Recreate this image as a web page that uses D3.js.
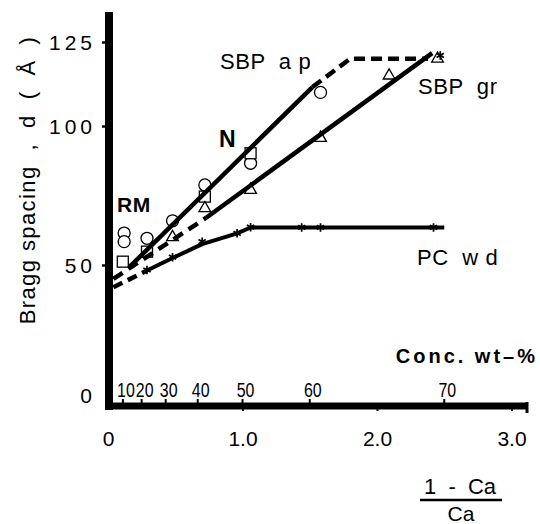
<!DOCTYPE html>
<html>
<head>
<meta charset="utf-8">
<script src="https://cdn.jsdelivr.net/npm/d3@7"></script>
<style>
  html, body { margin: 0; padding: 0; background: #fff; }
  svg { display: block; }
  text { font-family: "Liberation Sans", Arial, Helvetica, sans-serif; fill: #000; white-space: pre; }
</style>
</head>
<body>
<svg id="chart" width="540" height="524"></svg>
<script>
// ---- data ---------------------------------------------------------------
// x: (1 - Ca) / Ca, y: Bragg spacing d (Å)

// SBP a p (open circles)
const apX = [0.12, 0.12, 0.29, 0.48, 0.72, 1.06, 1.58];
const apY = [61.5, 58.4, 59.6, 65.9, 78.8, 86.6, 110];
// N (open squares)
const nX = [0.11, 0.29, 0.72, 1.06];
const nY = [51.2, 54.8, 74.6, 90.2];
// SBP gr (open triangles)
const grX = [0.48, 0.72, 1.06, 1.58, 2.09, 2.45];
const grY = [60, 70.4, 77, 95.7, 115, 120];
// PC w d (stars)
const pcX = [0.29, 0.48, 0.70, 0.96, 1.06, 1.44, 1.58, 2.42, 2.47];
const pcY = [48.2, 52.8, 58.4, 61.4, 63.6, 63.5, 63.5, 63.5, 121];

// fitted lines
const apSolidX = [0.16, 1.52];
const apSolidY = [49.3, 111.6];
const apDashX = [1.52, 1.80, 2.38];
const apDashY = [111.6, 120, 120];
const grSolidX = [0.73, 2.41];
const grSolidY = [67, 121.7];
const grDashX = [0.04, 0.73];
const grDashY = [45, 67];
const pcSolidX = [0.29, 0.48, 0.70, 0.96, 1.06, 2.50];
const pcSolidY = [48, 52.5, 57.5, 61.4, 63.5, 63.5];
const pcDashX = [0.04, 0.29];
const pcDashY = [42, 48];

// axes
const xTicks = [0, 1, 2, 3];
const yTicks = [0, 50, 100, 125];
const concPos = [0.111, 0.25, 0.429, 0.667, 1.0, 1.5, 2.5];
const concLabels = ["10", "20", "30", "40", "50", "60", "70"];

// ---- scales -------------------------------------------------------------
const x = d3.scaleLinear().domain([0, 3]).range([108, 511.5]);
// the printed axis stretches the 100–125 span
const y = d3.scaleLinear().domain([0, 50, 100, 125]).range([404, 265, 126, 42]);

const svg = d3.select("#chart");
const pts = (xs, ys) => xs.map((v, i) => [v, ys[i]]);
const line = d3.line().x(d => x(d[0])).y(d => y(d[1]));

// ---- axes ---------------------------------------------------------------
const axisX = 109, axisY = 406, yTop = 12, xEnd = 528;

const gy = svg.append("g").attr("transform", `translate(${axisX},0)`)
  .call(d3.axisLeft(y).tickValues(yTicks).tickSize(7).tickPadding(6).tickFormat(d3.format("d")));
gy.select(".domain").remove();
gy.selectAll(".tick line").attr("stroke", "#000").attr("stroke-width", 2.5)
  .attr("opacity", d => d === 0 ? 0 : 1);
gy.selectAll(".tick text").attr("font-size", 21).attr("letter-spacing", 4)
  .attr("font-family", "Liberation Sans, Arial, sans-serif").attr("fill", "#000")
  .attr("dy", d => d === 0 ? "-0.05em" : "0.35em");

const gx = svg.append("g").attr("transform", `translate(0,${axisY})`)
  .call(d3.axisBottom(x).tickValues(xTicks).tickSize(5).tickPadding(20)
    .tickFormat(d => d === 0 ? "0" : d3.format(".1f")(d)));
gx.select(".domain").remove();
gx.selectAll(".tick line").attr("stroke", "#000").attr("stroke-width", 2)
  .attr("opacity", d => d === 0 ? 0 : 1);
gx.selectAll(".tick text").attr("font-size", 21)
  .attr("font-family", "Liberation Sans, Arial, sans-serif").attr("fill", "#000");

// thick axis lines
svg.append("line").attr("x1", axisX).attr("x2", axisX).attr("y1", yTop).attr("y2", axisY + 4)
  .attr("stroke", "#000").attr("stroke-width", 8);
svg.append("line").attr("x1", axisX - 4).attr("x2", xEnd).attr("y1", axisY).attr("y2", axisY)
  .attr("stroke", "#000").attr("stroke-width", 7);
svg.append("line").attr("x1", xEnd - 1).attr("x2", xEnd - 1).attr("y1", axisY - 4).attr("y2", axisY + 7)
  .attr("stroke", "#000").attr("stroke-width", 3);

// concentration scale on top of the x axis
const gc = svg.append("g");
gc.selectAll("line").data(concPos).join("line")
  .attr("x1", d => x(d)).attr("x2", d => x(d))
  .attr("y1", axisY - 3).attr("y2", axisY - 7)
  .attr("stroke", "#000").attr("stroke-width", 2);
gc.selectAll("text").data(concLabels).join("text")
  .attr("transform", (d, i) => `translate(${x(concPos[i]) + 3},${axisY - 9}) scale(0.76,1)`)
  .attr("text-anchor", "middle").attr("font-size", 21)
  .text(d => d);

svg.append("text").attr("x", 538).attr("y", 363).attr("text-anchor", "end")
  .attr("font-size", 20).attr("font-weight", "bold").attr("letter-spacing", 3)
  .text("Conc. wt–%");

// x axis title as a fraction
svg.append("text").attr("x", 460).attr("y", 494).attr("text-anchor", "middle")
  .attr("font-size", 22).text("1  -  Ca");
svg.append("line").attr("x1", 420).attr("x2", 502).attr("y1", 500).attr("y2", 500)
  .attr("stroke", "#000").attr("stroke-width", 2.5);
svg.append("text").attr("x", 461).attr("y", 521).attr("text-anchor", "middle")
  .attr("font-size", 21).text("Ca");

// y axis title
svg.append("text").attr("transform", "translate(35,180) rotate(-90)")
  .attr("text-anchor", "middle").attr("font-size", 22).attr("letter-spacing", 1.4)
  .text("Bragg spacing  ,  d  (  Å  )");

// ---- markers ------------------------------------------------------------
const gm = svg.append("g").attr("fill", "#fff").attr("stroke", "#000").attr("stroke-width", 1.3);
gm.selectAll("circle.ap").data(pts(apX, apY)).join("circle").attr("class", "ap")
  .attr("cx", d => x(d[0])).attr("cy", d => y(d[1])).attr("r", 6);
gm.selectAll("rect.n").data(pts(nX, nY)).join("rect").attr("class", "n")
  .attr("x", d => x(d[0]) - 5.5).attr("y", d => y(d[1]) - 5.5)
  .attr("width", 11).attr("height", 11);
const tri = d3.symbol().type(d3.symbolTriangle).size(60);
gm.selectAll("path.gr").data(pts(grX, grY)).join("path").attr("class", "gr")
  .attr("transform", d => `translate(${x(d[0])},${y(d[1])})`).attr("d", tri());

// ---- lines --------------------------------------------------------------
const gl = svg.append("g").attr("fill", "none").attr("stroke", "#000")
  .attr("stroke-width", 4.5).attr("stroke-linecap", "butt").attr("stroke-linejoin", "round");
gl.append("path").attr("d", line(pts(apSolidX, apSolidY)));
gl.append("path").attr("d", line(pts(apDashX, apDashY))).attr("stroke-dasharray", "11 6");
gl.append("path").attr("d", line(pts(grSolidX, grSolidY)));
gl.append("path").attr("d", line(pts(grDashX, grDashY))).attr("stroke-dasharray", "11 7");
gl.append("path").attr("d", line(pts(pcSolidX, pcSolidY))).attr("stroke-width", 4);
gl.append("path").attr("d", line(pts(pcDashX, pcDashY))).attr("stroke-dasharray", "10 6");

// stars on the PC w d series
const star = d3.symbol().type(d3.symbolAsterisk).size(50);
svg.append("g").attr("fill", "none").attr("stroke", "#000").attr("stroke-width", 1.7)
  .selectAll("path").data(pts(pcX, pcY)).join("path")
  .attr("transform", d => `translate(${x(d[0])},${y(d[1])})`).attr("d", star());

// ---- labels -------------------------------------------------------------
const lab = svg.append("g").attr("font-size", 22).attr("letter-spacing", 0.6);
lab.append("text").attr("x", 220).attr("y", 69).text("SBP  a p");
lab.append("text").attr("x", 418).attr("y", 94).text("SBP  gr");
lab.append("text").attr("x", 417).attr("y", 265).text("PC  w d");
lab.append("text").attr("x", 219).attr("y", 147).attr("font-weight", "bold").attr("font-size", 23).text("N");
lab.append("text").attr("x", 117).attr("y", 212).attr("font-weight", "bold").attr("font-size", 21).text("RM");
</script>
</body>
</html>
